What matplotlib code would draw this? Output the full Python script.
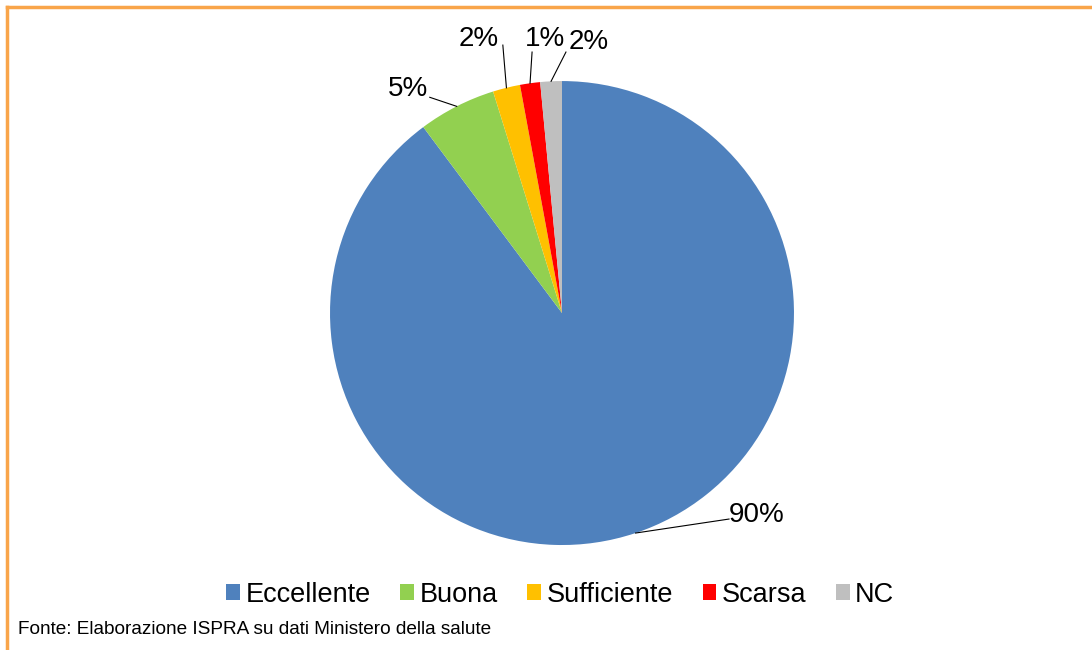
import matplotlib.pyplot as plt
import numpy as np
from matplotlib.lines import Line2D

# Data
categories = ["Eccellente", "Buona", "Sufficiente", "Scarsa", "NC"]
values = [89.8, 5.4, 1.9, 1.4, 1.5]
colors = ["#4F81BD", "#92D050", "#FFC000", "#FF0000", "#BFBFBF"]
# text position of each label and end of its leader line (pie data units, radius = 1)
label_pos = [(0.72, -0.87), (-0.575, 0.965), (-0.36, 1.18), (-0.075, 1.18), (0.115, 1.17)]
label_ha = ["left", "right", "center", "center", "center"]
leader_end = [(0.72, -0.888), (-0.57, 0.93), (-0.255, 1.155), (-0.129, 1.125), (0.017, 1.125)]

plt.rcParams["font.family"] = ["Liberation Sans", "DejaVu Sans"]

fig = plt.figure(figsize=(10.92, 6.5), dpi=100)
ax = fig.add_axes([0.3022, 0.1615, 0.4249, 0.7138])

wedges, _ = ax.pie(values, colors=colors, startangle=90, counterclock=False,
                   radius=1.0, wedgeprops=dict(linewidth=0))
ax.set_xlim(-1, 1)
ax.set_ylim(-1, 1)
ax.set_aspect("equal")
ax.axis("off")

# Labels with leader lines
for w, v, (tx, ty), ha, (lx, ly) in zip(wedges, values, label_pos, label_ha, leader_end):
    ang = np.deg2rad((w.theta1 + w.theta2) / 2)
    x0, y0 = np.cos(ang), np.sin(ang)
    if ha == "left":
        x0, y0 = np.cos(np.deg2rad(-71.5)), np.sin(np.deg2rad(-71.5))
    ax.plot([x0, lx], [y0, ly], color="black", linewidth=0.8, clip_on=False)
    ax.text(tx, ty, "%.0f%%" % v, ha=ha, va="center", fontsize=20, clip_on=False)

# Legend
fig.legend(wedges, categories, loc="center", bbox_to_anchor=(0.513, 0.085),
           ncol=5, frameon=False, fontsize=19.5, handlelength=0.5, handleheight=0.5,
           handletextpad=0.2, columnspacing=1.1)

# Source note
fig.text(18 / 1092, 1 - 630 / 650, "Fonte: Elaborazione ISPRA su dati Ministero della salute",
         fontsize=13.7, family=["Liberation Sans Narrow", "Liberation Sans"], va="center")

# Orange frame (top and left)
fig.add_artist(Line2D([7 / 1092, 1], [1 - 7 / 650, 1 - 7 / 650], color="#F9A54A", linewidth=2.5))
fig.add_artist(Line2D([7 / 1092, 7 / 1092], [0, 1 - 7 / 650], color="#F9A54A", linewidth=2.5))

fig.savefig("out.png", dpi=100)
